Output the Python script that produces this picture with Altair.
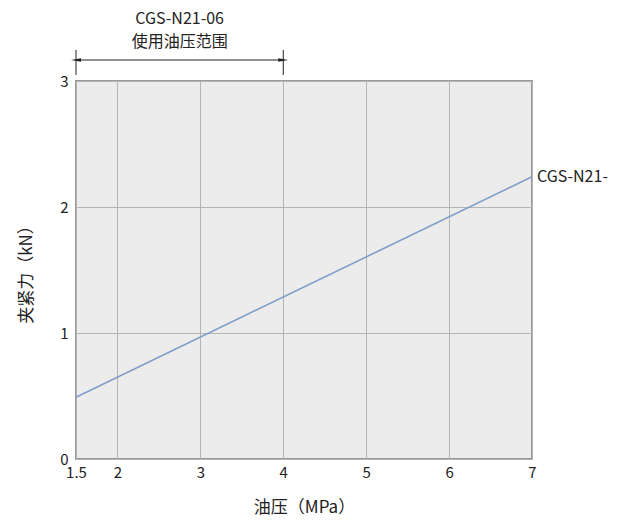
import altair as alt
import pandas as pd

pressure = [1.5, 7]
force = [0.49, 2.24]
x_ticks = [1.5, 2, 3, 4, 5, 6, 7]
y_ticks = [0, 1, 2, 3]
series_label = "CGS-N21-"
range_start, range_end = 1.5, 4
range_title = ["CGS-N21-06", "使用油压范围"]

FONT = "Noto Sans CJK SC"

df = pd.DataFrame({"p": pressure, "f": force})

xs = alt.Scale(domain=[1.5, 7], nice=False, zero=False)
ys = alt.Scale(domain=[0, 3], nice=False)

base = alt.Chart(df)

line = base.mark_line(color="#7f9fc9", strokeWidth=1.6, clip=False).encode(
    x=alt.X("p:Q", scale=xs,
            axis=alt.Axis(values=x_ticks, title="油压（MPa）", ticks=False,
                          format="~g", labelPadding=6, titlePadding=19, grid=True,
                          domain=False, labelFlush=False)),
    y=alt.Y("f:Q", scale=ys,
            axis=alt.Axis(values=y_ticks, title="夹紧力（kN）", ticks=False,
                          format="~g", labelPadding=8, titlePadding=24, grid=True,
                          domain=False, labelFlush=False)),
)

lbl_df = pd.DataFrame({"f": [force[-1]], "t": [series_label]})
label = alt.Chart(lbl_df).mark_text(align="left", baseline="middle", dx=5,
                                     font=FONT, fontSize=16, color="#222"
                                     ).encode(
    x=alt.value(456), y=alt.Y("f:Q", scale=ys), text="t:N")

rng = pd.DataFrame({"a": [range_start], "b": [range_end]})
arrow = alt.Chart(rng).mark_rule(color="#222", strokeWidth=1).encode(
    x=alt.X("a:Q", scale=xs), x2="b:Q", y=alt.value(-21))

ends = pd.DataFrame({"p": [range_start, range_end]})
vlines = alt.Chart(ends).mark_rule(color="#222", strokeWidth=1).encode(
    x=alt.X("p:Q", scale=xs), y=alt.value(-31), y2=alt.value(-6))

heads = pd.DataFrame({"p": [range_start, range_end],
                      "s": ["M-1,0L1,-0.35L1,0.35Z", "M1,0L-1,-0.35L-1,0.35Z"],
                      "o": [6, -6]})
arrowheads = alt.Chart(heads).mark_point(filled=True, color="#222", size=100,
                                         opacity=1).encode(
    x=alt.X("p:Q", scale=xs), y=alt.value(-21),
    shape=alt.Shape("s:N", scale=None), xOffset=alt.XOffset("o:Q", scale=None))

ttl = pd.DataFrame({"p": [(range_start + range_end) / 2] * 2,
                    "t": range_title, "y": [-62, -39]})
title_txt = alt.Chart(ttl).mark_text(font=FONT, fontSize=16, color="#222",
                                     baseline="middle").encode(
    x=alt.X("p:Q", scale=xs), y=alt.Y("y:Q", scale=None), text="t:N")

chart = alt.layer(line, label, arrow, vlines, arrowheads, title_txt).properties(
    width=456, height=378,
    autosize=alt.AutoSizeParams(type="none"),
    padding={"left": 68, "top": 73, "right": 97, "bottom": 58},
).configure_view(
    fill="#ececec", stroke="#999999", strokeWidth=2
).configure_axis(
    gridColor="#b4b4b4", gridWidth=1, labelFont=FONT, titleFont=FONT,
    labelFontSize=15, titleFontSize=17, labelColor="#222", titleColor="#222",
    titleFontWeight="normal"
)

chart.save("out.html", embed_options={"renderer": "svg", "actions": False})
